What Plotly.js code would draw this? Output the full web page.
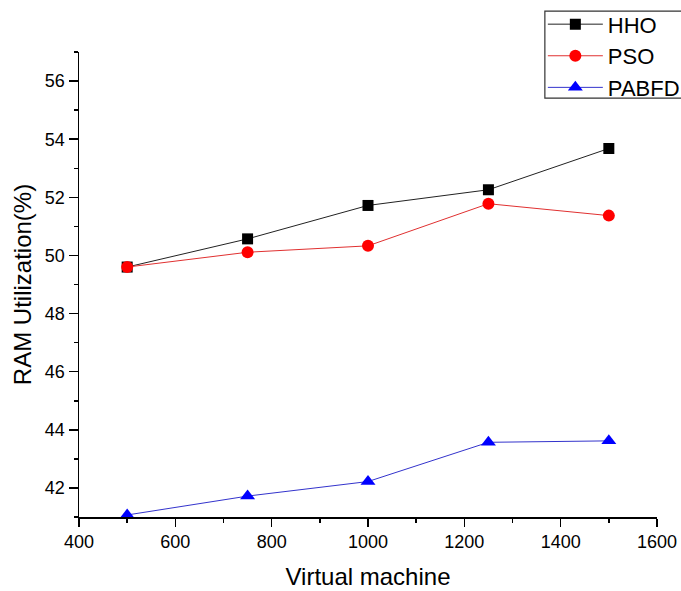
<!DOCTYPE html>
<html>
<head>
<meta charset="utf-8">
<script src="https://cdn.plot.ly/plotly-3.0.1.min.js"></script>
<style>
  html, body { margin: 0; padding: 0; background: #ffffff; }
  #chart { width: 681px; height: 591px; }
</style>
</head>
<body>
<div id="chart"></div>
<script>
// Number of virtual machines
const vmCounts = [500, 750, 1000, 1250, 1500];

// RAM utilization (%) per algorithm
const hhoRam   = [49.6, 50.57, 51.72, 52.26, 53.68];
const psoRam   = [49.6, 50.11, 50.33, 51.78, 51.37];
const pabfdRam = [41.07, 41.72, 42.22, 43.57, 43.62];

const seriesNames = ['HHO', 'PSO', 'PABFD'];

const fontFamily = '"Liberation Sans", Arial, Helvetica, sans-serif';

const traces = [
  {
    x: vmCounts, y: hhoRam, name: seriesNames[0],
    type: 'scatter', mode: 'lines+markers',
    line: { color: '#222222', width: 1 },
    marker: { symbol: 'square', size: 11, color: '#000000' },
    cliponaxis: false
  },
  {
    x: vmCounts, y: psoRam, name: seriesNames[1],
    type: 'scatter', mode: 'lines+markers',
    line: { color: '#e03030', width: 1 },
    marker: { symbol: 'circle', size: 12, color: '#ff0000' },
    cliponaxis: false
  },
  {
    x: vmCounts, y: pabfdRam, name: seriesNames[2],
    type: 'scatter', mode: 'lines+markers',
    line: { color: '#3333cc', width: 1 },
    marker: { symbol: 'triangle-up', size: 13, color: '#0000ff' },
    cliponaxis: false
  }
];

const layout = {
  width: 681,
  height: 591,
  paper_bgcolor: '#ffffff',
  plot_bgcolor: '#ffffff',
  font: { family: fontFamily, color: '#000000' },
  margin: { l: 79, r: 24, t: 52, b: 74, autoexpand: false },
  showlegend: true,
  legend: {
    x: 0.8025, y: 1.1046, xanchor: 'left', yanchor: 'top',
    bgcolor: 'rgba(0,0,0,0)',
    borderwidth: 0,
    font: { family: fontFamily, size: 22, color: '#000000' },
    itemwidth: 55,
    tracegroupgap: 0
  },
  // frame around the legend, running off the right edge of the page
  shapes: [
    {
      type: 'rect', xref: 'paper', yref: 'paper',
      x0: 0.806, x1: 1.2, y0: 0.901, y1: 1.088,
      line: { color: '#333333', width: 1.2 },
      fillcolor: '#ffffff',
      layer: 'below'
    }
  ],
  xaxis: {
    range: [400, 1600],
    tick0: 400, dtick: 200,
    showgrid: false, zeroline: false,
    showline: true, linecolor: '#000000', linewidth: 1.5,
    ticks: 'outside', ticklen: 8, tickwidth: 1.5, tickcolor: '#000000',
    minor: { dtick: 100, ticks: 'outside', ticklen: 4, tickwidth: 1.5, tickcolor: '#000000', showgrid: false },
    tickfont: { family: fontFamily, size: 18, color: '#000000' },
    title: { text: 'Virtual machine', font: { family: fontFamily, size: 24, color: '#000000' }, standoff: 17 }
  },
  yaxis: {
    range: [41, 57],
    tick0: 42, dtick: 2,
    showgrid: false, zeroline: false,
    showline: true, linecolor: '#000000', linewidth: 1.5,
    ticks: 'outside', ticklen: 9, tickwidth: 1.5, tickcolor: '#000000',
    minor: { dtick: 1, ticks: 'outside', ticklen: 4, tickwidth: 1.5, tickcolor: '#000000', showgrid: false },
    tickfont: { family: fontFamily, size: 18, color: '#000000' },
    title: { text: 'RAM Utilization(%)', font: { family: fontFamily, size: 24, color: '#000000' }, standoff: 6 }
  }
};

Plotly.newPlot('chart', traces, layout, { displayModeBar: false, staticPlot: true });
</script>
</body>
</html>
